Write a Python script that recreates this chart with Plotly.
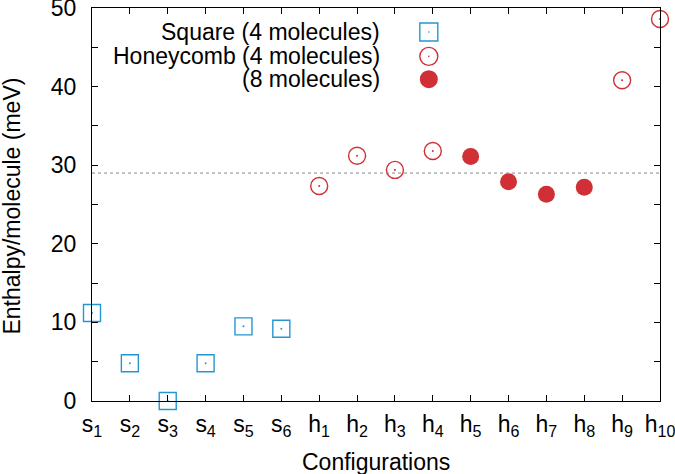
import plotly.graph_objects as go

# configurations and enthalpies (meV)
labels = ["s<sub>1</sub>", "s<sub>2</sub>", "s<sub>3</sub>", "s<sub>4</sub>", "s<sub>5</sub>", "s<sub>6</sub>",
          "h<sub>1</sub>", "h<sub>2</sub>", "h<sub>3</sub>", "h<sub>4</sub>", "h<sub>5</sub>",
          "h<sub>6</sub>", "h<sub>7</sub>", "h<sub>8</sub>", "h<sub>9</sub>", "h<sub>10</sub>"]
square_x = [0, 1, 2, 3, 4, 5]
square_y = [11.2, 4.8, 0.0, 4.8, 9.5, 9.2]
honey4_x = [6, 7, 8, 9, 14, 15]
honey4_y = [27.35, 31.2, 29.4, 31.8, 40.8, 48.6]
honey8_x = [10, 11, 12, 13]
honey8_y = [31.1, 27.9, 26.3, 27.2]
ref_level = 29.0

blue = "#2596d2"
red = "#d03035"
font = "Liberation Sans, Arial, sans-serif"

fig = go.Figure()

fig.add_trace(go.Scatter(x=square_x, y=square_y, mode="markers", cliponaxis=False,
                         marker=dict(symbol="square-open", size=17, color=blue,
                                     line=dict(width=1.4, color=blue))))
fig.add_trace(go.Scatter(x=honey4_x, y=honey4_y, mode="markers", cliponaxis=False,
                         marker=dict(symbol="circle-open", size=17, color=red,
                                     line=dict(width=1.4, color=red))))
fig.add_trace(go.Scatter(x=honey8_x, y=honey8_y, mode="markers", cliponaxis=False,
                         marker=dict(symbol="circle", size=17, color=red,
                                     line=dict(width=0))))
# tiny centre dots gnuplot puts in open points
fig.add_trace(go.Scatter(x=square_x + honey4_x, y=square_y + honey4_y, mode="markers",
                         cliponaxis=False,
                         marker=dict(size=2, color=[blue] * 6 + [red] * 6, line=dict(width=0))))

# dotted reference line
fig.add_shape(type="line", xref="x", yref="y", x0=0, x1=15, y0=ref_level, y1=ref_level,
              line=dict(color="#888888", width=1, dash="dot"))

# hand-made legend (text right aligned, symbol on the right)
leg_text = ["Square (4 molecules)", "Honeycomb (4 molecules)", "(8 molecules)"]
leg_y = [0.939, 0.877, 0.819]
sym_x = 0.593
for txt, yy in zip(leg_text, leg_y):
    fig.add_annotation(text=txt, xref="paper", yref="paper", x=0.51, y=yy,
                       xanchor="right", yanchor="middle", showarrow=False,
                       font=dict(family=font, size=23, color="black"))
fig.add_shape(type="rect", xref="paper", yref="paper", xsizemode="pixel", ysizemode="pixel",
              xanchor=sym_x, yanchor=leg_y[0], x0=-9, x1=9, y0=-9, y1=9,
              line=dict(color=blue, width=1.4))
fig.add_shape(type="circle", xref="paper", yref="paper", xsizemode="pixel", ysizemode="pixel",
              xanchor=sym_x, yanchor=leg_y[1], x0=-9, x1=9, y0=-9, y1=9,
              line=dict(color=red, width=1.4))
fig.add_shape(type="circle", xref="paper", yref="paper", xsizemode="pixel", ysizemode="pixel",
              xanchor=sym_x, yanchor=leg_y[2], x0=-9, x1=9, y0=-9, y1=9,
              line=dict(width=0), fillcolor=red)
for col, yy in [(blue, leg_y[0]), (red, leg_y[1])]:
    fig.add_shape(type="circle", xref="paper", yref="paper", xsizemode="pixel", ysizemode="pixel",
                  xanchor=sym_x, yanchor=yy, x0=-0.8, x1=0.8, y0=-0.8, y1=0.8,
                  line=dict(width=0), fillcolor=col)

# axis titles as annotations for exact placement
fig.add_annotation(text="Configurations", xref="paper", yref="paper", x=0.5, y=-0.155,
                   xanchor="center", yanchor="middle", showarrow=False,
                   font=dict(family=font, size=23, color="black"))
fig.add_annotation(text="Enthalpy/molecule (meV)", xref="paper", yref="paper", x=-0.14, y=0.496,
                   xanchor="center", yanchor="middle", showarrow=False, textangle=-90,
                   font=dict(family=font, size=23, color="black"))

yticks = list(range(0, 51, 5))
fig.update_layout(
    width=675, height=474,
    margin=dict(l=92, r=15, t=8, b=73),
    paper_bgcolor="white", plot_bgcolor="white",
    showlegend=False,
    font=dict(family=font, size=23, color="black"),
    xaxis=dict(range=[0, 15], tickmode="array", tickvals=list(range(16)), ticktext=labels,
               ticks="inside", ticklen=6, tickcolor="black", tickwidth=1,
               showline=True, linecolor="black", linewidth=1.3, mirror="ticks",
               showgrid=False, zeroline=False, automargin=False,
               ticklabeloverflow="allow", ticklabelstandoff=2),
    yaxis=dict(range=[0, 50], tickmode="array", tickvals=yticks,
               ticktext=[str(v) if v % 10 == 0 else "" for v in yticks],
               ticks="inside", ticklen=6, tickcolor="black", tickwidth=1,
               showline=True, linecolor="black", linewidth=1.3, mirror="ticks",
               showgrid=False, zeroline=False, automargin=False,
               ticklabeloverflow="allow", ticklabelstandoff=10),
)

# drop the browser's default body margin so the figure sits at the page corner
fig.write_html("out.html", config={"displayModeBar": False},
               post_script="document.body.style.margin='0';")
